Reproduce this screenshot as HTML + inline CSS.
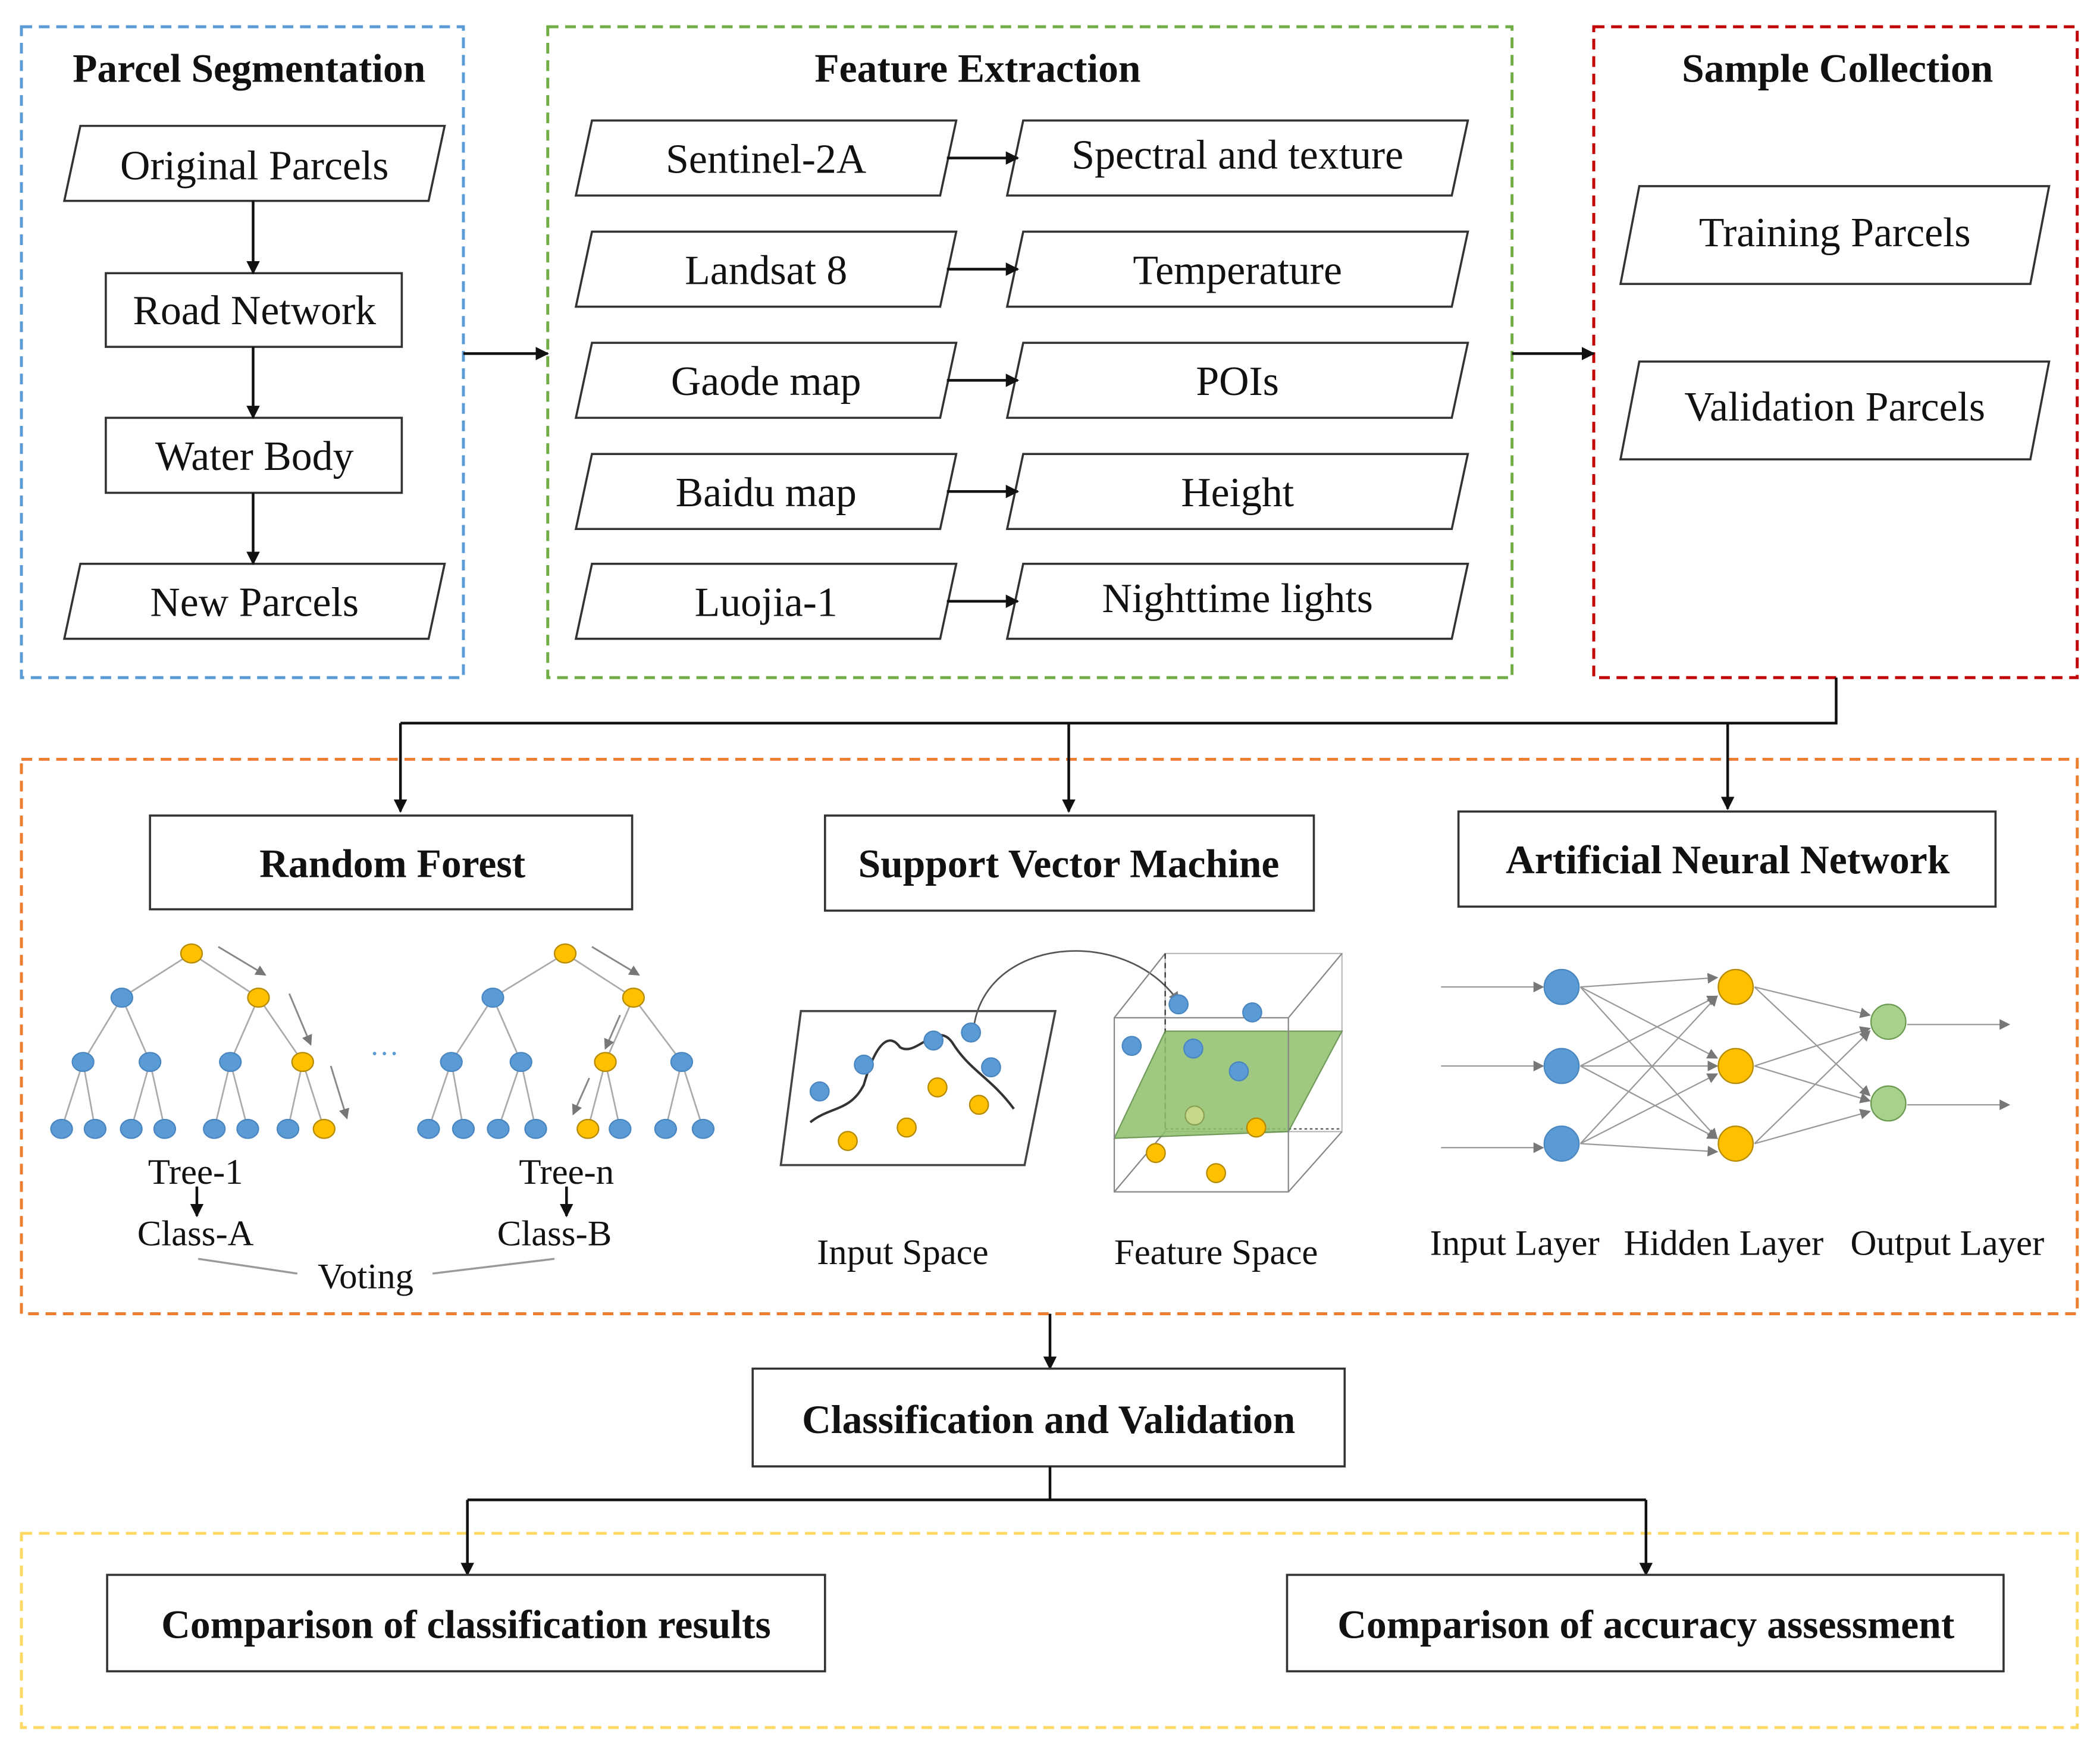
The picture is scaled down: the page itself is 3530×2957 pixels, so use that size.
<!DOCTYPE html>
<html><head><meta charset="utf-8"><style>
html,body{margin:0;padding:0;background:#fff;}
svg{display:block}
text{font-family:"Liberation Serif",serif;fill:#111}
.t{font-size:31px;text-anchor:middle}
.b{font-size:30px;font-weight:bold;text-anchor:middle}
.s{font-size:27px;text-anchor:middle}
.sh{fill:#fff;stroke:#333;stroke-width:1.6}
.ln{stroke:#111;stroke-width:2;fill:none}
.tl{stroke:#aaa;stroke-width:1.2}
.bl{fill:#5b9bd5;stroke:#4a86c0;stroke-width:1}
.yl{fill:#ffc000;stroke:#b58a00;stroke-width:1}
.gr{fill:#a9d18e;stroke:#6a9a50;stroke-width:1}
</style></head><body>
<svg width="3530" height="2957" viewBox="0 0 1568 1313.5" preserveAspectRatio="none" xmlns="http://www.w3.org/2000/svg">
<defs>
<marker id="a" markerWidth="10" markerHeight="10" refX="9" refY="5" orient="auto" markerUnits="userSpaceOnUse"><path d="M0,0 L10,5 L0,10 z" fill="#111"/></marker>
<marker id="g" markerWidth="8" markerHeight="8" refX="7" refY="4" orient="auto" markerUnits="userSpaceOnUse"><path d="M0,0 L8,4 L0,8 z" fill="#777"/></marker>
</defs>
<rect x="16" y="20" width="330" height="486" fill="none" stroke="#5b9bd5" stroke-width="2.2" stroke-dasharray="8,5"/>
<rect x="409" y="20" width="720" height="486" fill="none" stroke="#70ad47" stroke-width="2.2" stroke-dasharray="8,5"/>
<rect x="1190" y="20" width="361" height="486" fill="none" stroke="#c00000" stroke-width="2.2" stroke-dasharray="8,5"/>
<rect x="16" y="567" width="1535" height="414" fill="none" stroke="#ed7d31" stroke-width="2.2" stroke-dasharray="8,5"/>
<rect x="16" y="1145" width="1535" height="145" fill="none" stroke="#ffd966" stroke-width="2.2" stroke-dasharray="8,5"/>

<text class="b" x="186" y="61">Parcel Segmentation</text>
<text class="b" x="730" y="61">Feature Extraction</text>
<text class="b" x="1372" y="61">Sample Collection</text>

<polygon class="sh" points="60,94 332,94 320,150 48,150"/><text class="t" x="190" y="134">Original Parcels</text>
<rect class="sh" x="79" y="204" width="221" height="55"/><text class="t" x="190" y="242">Road Network</text>
<rect class="sh" x="79" y="312" width="221" height="56"/><text class="t" x="190" y="351">Water Body</text>
<polygon class="sh" points="60,421 332,421 320,477 48,477"/><text class="t" x="190" y="460">New Parcels</text>
<line class="ln" x1="189" y1="150" x2="189" y2="204" marker-end="url(#a)"/>
<line class="ln" x1="189" y1="259" x2="189" y2="312" marker-end="url(#a)"/>
<line class="ln" x1="189" y1="368" x2="189" y2="421" marker-end="url(#a)"/>
<line class="ln" x1="346" y1="264" x2="409" y2="264" marker-end="url(#a)"/>
<line class="ln" x1="1129" y1="264" x2="1190" y2="264" marker-end="url(#a)"/>

<g>
<polygon class="sh" points="442,90 714,90 702,146 430,146"/><text class="t" x="572" y="129">Sentinel-2A</text>
<polygon class="sh" points="764,90 1096,90 1084,146 752,146"/><text class="t" x="924" y="126">Spectral and texture</text>
<line class="ln" x1="707" y1="118" x2="760" y2="118" marker-end="url(#a)"/>
<polygon class="sh" points="442,173 714,173 702,229 430,229"/><text class="t" x="572" y="212">Landsat 8</text>
<polygon class="sh" points="764,173 1096,173 1084,229 752,229"/><text class="t" x="924" y="212">Temperature</text>
<line class="ln" x1="707" y1="201" x2="760" y2="201" marker-end="url(#a)"/>
<polygon class="sh" points="442,256 714,256 702,312 430,312"/><text class="t" x="572" y="295">Gaode map</text>
<polygon class="sh" points="764,256 1096,256 1084,312 752,312"/><text class="t" x="924" y="295">POIs</text>
<line class="ln" x1="707" y1="284" x2="760" y2="284" marker-end="url(#a)"/>
<polygon class="sh" points="442,339 714,339 702,395 430,395"/><text class="t" x="572" y="378">Baidu map</text>
<polygon class="sh" points="764,339 1096,339 1084,395 752,395"/><text class="t" x="924" y="378">Height</text>
<line class="ln" x1="707" y1="367" x2="760" y2="367" marker-end="url(#a)"/>
<polygon class="sh" points="442,421 714,421 702,477 430,477"/><text class="t" x="572" y="460">Luojia-1</text>
<polygon class="sh" points="764,421 1096,421 1084,477 752,477"/><text class="t" x="924" y="457">Nighttime lights</text>
<line class="ln" x1="707" y1="449" x2="760" y2="449" marker-end="url(#a)"/>
</g>

<polygon class="sh" points="1224,139 1530,139 1516,212 1210,212"/><text class="t" x="1370" y="184">Training Parcels</text>
<polygon class="sh" points="1224,270 1530,270 1516,343 1210,343"/><text class="t" x="1370" y="314">Validation Parcels</text>

<polyline class="ln" points="1371,506 1371,540 299,540"/>
<line class="ln" x1="299" y1="540" x2="299" y2="606" marker-end="url(#a)"/>
<line class="ln" x1="798" y1="540" x2="798" y2="606" marker-end="url(#a)"/>
<line class="ln" x1="1290" y1="540" x2="1290" y2="604" marker-end="url(#a)"/>

<rect class="sh" x="112" y="609" width="360" height="70"/><text class="b" x="293" y="655">Random Forest</text>
<rect class="sh" x="616" y="609" width="365" height="71"/><text class="b" x="798" y="655">Support Vector Machine</text>
<rect class="sh" x="1089" y="606" width="401" height="71"/><text class="b" x="1290" y="652">Artificial Neural Network</text>

<g>
<g class="tl">
<line x1="143" y1="712" x2="91" y2="745"/><line x1="143" y1="712" x2="193" y2="745"/>
<line x1="91" y1="745" x2="62" y2="793"/><line x1="91" y1="745" x2="112" y2="793"/>
<line x1="193" y1="745" x2="172" y2="793"/><line x1="193" y1="745" x2="226" y2="793"/>
<line x1="62" y1="793" x2="46" y2="843"/><line x1="62" y1="793" x2="71" y2="843"/>
<line x1="112" y1="793" x2="98" y2="843"/><line x1="112" y1="793" x2="123" y2="843"/>
<line x1="172" y1="793" x2="160" y2="843"/><line x1="172" y1="793" x2="185" y2="843"/>
<line x1="226" y1="793" x2="215" y2="843"/><line x1="226" y1="793" x2="242" y2="843"/>
</g>
<line x1="163" y1="707" x2="198" y2="728" stroke="#888" stroke-width="1.3" marker-end="url(#g)"/>
<line x1="216" y1="742" x2="232" y2="780" stroke="#888" stroke-width="1.3" marker-end="url(#g)"/>
<line x1="247" y1="796" x2="259" y2="835" stroke="#888" stroke-width="1.3" marker-end="url(#g)"/>
<ellipse class="yl" cx="143" cy="712" rx="8" ry="7"/>
<ellipse class="bl" cx="91" cy="745" rx="8" ry="7"/><ellipse class="yl" cx="193" cy="745" rx="8" ry="7"/>
<ellipse class="bl" cx="62" cy="793" rx="8" ry="7"/><ellipse class="bl" cx="112" cy="793" rx="8" ry="7"/><ellipse class="bl" cx="172" cy="793" rx="8" ry="7"/><ellipse class="yl" cx="226" cy="793" rx="8" ry="7"/>
<ellipse class="bl" cx="46" cy="843" rx="8" ry="7"/><ellipse class="bl" cx="71" cy="843" rx="8" ry="7"/><ellipse class="bl" cx="98" cy="843" rx="8" ry="7"/><ellipse class="bl" cx="123" cy="843" rx="8" ry="7"/><ellipse class="bl" cx="160" cy="843" rx="8" ry="7"/><ellipse class="bl" cx="185" cy="843" rx="8" ry="7"/><ellipse class="bl" cx="215" cy="843" rx="8" ry="7"/><ellipse class="yl" cx="242" cy="843" rx="8" ry="7"/>
</g>
<g>
<g class="tl">
<line x1="422" y1="712" x2="368" y2="745"/><line x1="422" y1="712" x2="473" y2="745"/>
<line x1="368" y1="745" x2="337" y2="793"/><line x1="368" y1="745" x2="389" y2="793"/>
<line x1="473" y1="745" x2="452" y2="793"/><line x1="473" y1="745" x2="509" y2="793"/>
<line x1="337" y1="793" x2="320" y2="843"/><line x1="337" y1="793" x2="346" y2="843"/>
<line x1="389" y1="793" x2="372" y2="843"/><line x1="389" y1="793" x2="400" y2="843"/>
<line x1="452" y1="793" x2="439" y2="843"/><line x1="452" y1="793" x2="463" y2="843"/>
<line x1="509" y1="793" x2="497" y2="843"/><line x1="509" y1="793" x2="525" y2="843"/>
</g>
<line x1="442" y1="707" x2="477" y2="728" stroke="#888" stroke-width="1.3" marker-end="url(#g)"/>
<line x1="463" y1="758" x2="452" y2="783" stroke="#888" stroke-width="1.3" marker-end="url(#g)"/>
<line x1="440" y1="805" x2="428" y2="832" stroke="#888" stroke-width="1.3" marker-end="url(#g)"/>
<ellipse class="yl" cx="422" cy="712" rx="8" ry="7"/>
<ellipse class="bl" cx="368" cy="745" rx="8" ry="7"/><ellipse class="yl" cx="473" cy="745" rx="8" ry="7"/>
<ellipse class="bl" cx="337" cy="793" rx="8" ry="7"/><ellipse class="bl" cx="389" cy="793" rx="8" ry="7"/><ellipse class="yl" cx="452" cy="793" rx="8" ry="7"/><ellipse class="bl" cx="509" cy="793" rx="8" ry="7"/>
<ellipse class="bl" cx="320" cy="843" rx="8" ry="7"/><ellipse class="bl" cx="346" cy="843" rx="8" ry="7"/><ellipse class="bl" cx="372" cy="843" rx="8" ry="7"/><ellipse class="bl" cx="400" cy="843" rx="8" ry="7"/><ellipse class="yl" cx="439" cy="843" rx="8" ry="7"/><ellipse class="bl" cx="463" cy="843" rx="8" ry="7"/><ellipse class="bl" cx="497" cy="843" rx="8" ry="7"/><ellipse class="bl" cx="525" cy="843" rx="8" ry="7"/>
</g>
<text x="287" y="794" font-size="22" style="fill:#5b9bd5;text-anchor:middle">···</text>
<text class="s" x="146" y="884">Tree-1</text>
<text class="s" x="423" y="884">Tree-n</text>
<line class="ln" x1="147" y1="886" x2="147" y2="908" marker-end="url(#a)" stroke-width="1.6"/>
<line class="ln" x1="423" y1="886" x2="423" y2="908" marker-end="url(#a)" stroke-width="1.6"/>
<text class="s" x="146" y="930">Class-A</text>
<text class="s" x="414" y="930">Class-B</text>
<text class="s" x="273" y="962">Voting</text>
<polyline points="148,940 222,951" stroke="#999" stroke-width="1.5" fill="none"/>
<polyline points="323,951 414,940" stroke="#999" stroke-width="1.5" fill="none"/>

<polygon points="598,755 788,755 765,870 583,870" fill="#fff" stroke="#444" stroke-width="1.6"/>
<path d="M605,838 C620,826 635,830 645,810 C655,775 665,772 672,782 C685,790 700,760 712,780 C725,800 740,805 757,828" stroke="#333" stroke-width="1.8" fill="none"/>
<path d="M727,768 C735,700 840,690 880,748" stroke="#555" stroke-width="1.2" fill="none" marker-end="url(#g)"/>
<g>
<ellipse class="bl" cx="612" cy="815" rx="7" ry="7"/><ellipse class="bl" cx="645" cy="795" rx="7" ry="7"/><ellipse class="bl" cx="697" cy="777" rx="7" ry="7"/><ellipse class="bl" cx="725" cy="771" rx="7" ry="7"/><ellipse class="bl" cx="740" cy="797" rx="7" ry="7"/>
<ellipse class="yl" cx="633" cy="852" rx="7" ry="7"/><ellipse class="yl" cx="677" cy="842" rx="7" ry="7"/><ellipse class="yl" cx="700" cy="812" rx="7" ry="7"/><ellipse class="yl" cx="731" cy="825" rx="7" ry="7"/>
</g>
<g stroke="#888" stroke-width="1" fill="none">
<rect x="870" y="712" width="132" height="133" stroke="#bbb"/>
<line x1="832" y1="760" x2="870" y2="712"/><line x1="962" y1="760" x2="1002" y2="712"/>
<line x1="832" y1="890" x2="870" y2="845"/><line x1="962" y1="890" x2="1002" y2="845"/>
</g>
<line x1="870" y1="712" x2="870" y2="845" stroke="#333" stroke-dasharray="4,3"/>
<line x1="870" y1="843" x2="1002" y2="843" stroke="#555" stroke-dasharray="2,2"/>
<polygon points="870,770 1002,770 962,845 832,850" fill="#8fbf6b" opacity="0.85" stroke="#5a8a40"/>
<rect x="832" y="760" width="130" height="130" fill="none" stroke="#888" stroke-width="1"/>
<ellipse class="bl" cx="880" cy="750" rx="7" ry="7"/><ellipse class="bl" cx="935" cy="756" rx="7" ry="7"/><ellipse class="bl" cx="845" cy="781" rx="7" ry="7"/><ellipse class="bl" cx="891" cy="783" rx="7" ry="7"/><ellipse class="bl" cx="925" cy="800" rx="7" ry="7"/>
<ellipse cx="892" cy="833" rx="7" ry="7" fill="#c6d98a" stroke="#8aa050"/><ellipse class="yl" cx="938" cy="842" rx="7" ry="7"/><ellipse class="yl" cx="863" cy="861" rx="7" ry="7"/><ellipse class="yl" cx="908" cy="876" rx="7" ry="7"/>
<text class="s" x="674" y="944">Input Space</text>
<text class="s" x="908" y="944">Feature Space</text>

<g stroke="#999" stroke-width="1" marker-end="url(#g)">
<line x1="1076" y1="737" x2="1152" y2="737"/><line x1="1076" y1="796" x2="1152" y2="796"/><line x1="1076" y1="857" x2="1152" y2="857"/>
<line x1="1180" y1="737" x2="1282" y2="730"/><line x1="1180" y1="737" x2="1282" y2="790"/><line x1="1180" y1="737" x2="1282" y2="850"/>
<line x1="1180" y1="796" x2="1282" y2="744"/><line x1="1180" y1="796" x2="1282" y2="796"/><line x1="1180" y1="796" x2="1282" y2="850"/>
<line x1="1180" y1="854" x2="1282" y2="744"/><line x1="1180" y1="854" x2="1282" y2="802"/><line x1="1180" y1="854" x2="1282" y2="860"/>
<line x1="1310" y1="737" x2="1396" y2="758"/><line x1="1310" y1="737" x2="1396" y2="818"/>
<line x1="1310" y1="796" x2="1396" y2="768"/><line x1="1310" y1="796" x2="1396" y2="822"/>
<line x1="1310" y1="854" x2="1396" y2="770"/><line x1="1310" y1="854" x2="1396" y2="830"/>
<line x1="1424" y1="765" x2="1500" y2="765"/><line x1="1424" y1="825" x2="1500" y2="825"/>
</g>
<circle class="bl" cx="1166" cy="737" r="13"/><circle class="bl" cx="1166" cy="796" r="13"/><circle class="bl" cx="1166" cy="854" r="13"/>
<circle class="yl" cx="1296" cy="737" r="13"/><circle class="yl" cx="1296" cy="796" r="13"/><circle class="yl" cx="1296" cy="854" r="13"/>
<circle class="gr" cx="1410" cy="763" r="13"/><circle class="gr" cx="1410" cy="824" r="13"/>
<text class="s" x="1131" y="937">Input Layer</text>
<text class="s" x="1287" y="937">Hidden Layer</text>
<text class="s" x="1454" y="937">Output Layer</text>

<line class="ln" x1="784" y1="981" x2="784" y2="1022" marker-end="url(#a)"/>
<rect class="sh" x="562" y="1022" width="442" height="73"/><text class="b" x="783" y="1070">Classification and Validation</text>
<polyline class="ln" points="784,1095 784,1120"/>
<line class="ln" x1="349" y1="1120" x2="1229" y2="1120"/>
<line class="ln" x1="349" y1="1120" x2="349" y2="1176" marker-end="url(#a)"/>
<line class="ln" x1="1229" y1="1120" x2="1229" y2="1176" marker-end="url(#a)"/>
<rect class="sh" x="80" y="1176" width="536" height="72"/><text class="b" x="348" y="1223">Comparison of classification results</text>
<rect class="sh" x="961" y="1176" width="535" height="72"/><text class="b" x="1229" y="1223">Comparison of accuracy assessment</text>
</svg>
</body></html>
